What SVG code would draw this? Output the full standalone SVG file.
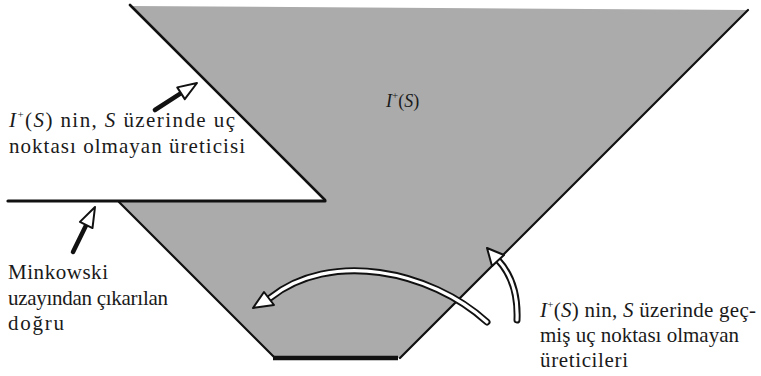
<svg xmlns="http://www.w3.org/2000/svg" width="761" height="376" viewBox="0 0 761 376">
<defs>
<style>
.t{font-family:"Liberation Serif","Times New Roman",serif;font-size:21px;fill:#1a1a1a}
.i{font-style:italic}
.sup{font-size:11px}
.edge{stroke:#111;fill:none;stroke-linecap:round}
.shaft{stroke:#111;stroke-width:4.5;stroke-linecap:round;fill:none}
.head{fill:#fff;stroke:#111;stroke-width:2;stroke-linejoin:round}
.hollowOut{stroke:#111;stroke-width:7;fill:none;stroke-linecap:round}
.hollowIn{stroke:#fff;stroke-width:3.2;fill:none;stroke-linecap:round}
</style>
</defs>
<rect width="761" height="376" fill="#fff"/>
<g id="region">
<polygon points="130,6 748,10 400,358 275,358 119,202 325,201" fill="#ababab"/>
<line class="edge" x1="130" y1="5" x2="325" y2="200" stroke-width="2.6"/>
<line class="edge" x1="400" y1="358" x2="748" y2="10" stroke-width="2.2"/>
<line class="edge" x1="119" y1="202" x2="275" y2="358" stroke-width="2.2"/>
<line class="edge" x1="8" y1="201" x2="325" y2="201" stroke-width="3.2"/>
<line x1="273" y1="358" x2="398" y2="358" stroke="#111" stroke-width="4.5"/>
<text class="t" x="386" y="107" font-family="Liberation Serif, serif" style="font-size:18px"><tspan class="i">I</tspan><tspan class="sup" dy="-8">+</tspan><tspan dy="8">(</tspan><tspan class="i">S</tspan>)</text>
</g>
<g id="label-generator" font-family="Liberation Serif, serif">
<text class="t" x="9" y="127" textLength="226" lengthAdjust="spacing"><tspan class="i">I</tspan><tspan class="sup" dy="-9">+</tspan><tspan dy="9">(</tspan><tspan class="i">S</tspan>) nin, <tspan class="i">S</tspan> üzerinde uç</text>
<text class="t" x="9" y="153" textLength="236" lengthAdjust="spacing">noktası olmayan üreticisi</text>
</g>
<g id="label-minkowski" font-family="Liberation Serif, serif">
<text class="t" x="8" y="279" textLength="100" lengthAdjust="spacing">Minkowski</text>
<text class="t" x="8" y="305" textLength="160" lengthAdjust="spacing">uzayından çıkarılan</text>
<text class="t" x="8" y="330" textLength="56" lengthAdjust="spacing">doğru</text>
</g>
<g id="label-past" font-family="Liberation Serif, serif">
<text class="t" x="540" y="317" textLength="216" lengthAdjust="spacing"><tspan class="i">I</tspan><tspan class="sup" dy="-9">+</tspan><tspan dy="9">(</tspan><tspan class="i">S</tspan>) nin, <tspan class="i">S</tspan> üzerinde geç-</text>
<text class="t" x="540" y="342" textLength="199" lengthAdjust="spacing">miş uç noktası olmayan</text>
<text class="t" x="540" y="367" textLength="88" lengthAdjust="spacing">üreticileri</text>
</g>
<g id="connectors">
<g transform="translate(197,83) rotate(-32.7)">
<line class="shaft" x1="-18" y1="0" x2="-50" y2="0"/>
<polygon class="head" points="0,0 -19,-7 -19,7"/>
</g>
<g transform="translate(95,207) rotate(-63.9)">
<line class="shaft" x1="-18" y1="0" x2="-50" y2="0"/>
<polygon class="head" points="0,0 -20,-7 -20,7"/>
</g>
<path class="hollowOut" d="M487,322 C430,270 330,250 270,298"/>
<path class="hollowIn" d="M487,322 C430,270 330,250 270,298"/>
<polygon class="head" points="253,308 274,305 264,292"/>
<path class="hollowOut" d="M517,320 C518,295 512,275 498,260"/>
<path class="hollowIn" d="M517,320 C518,295 512,275 498,260"/>
<polygon class="head" points="487,248 504,255 492,266"/>
</g>
</svg>
